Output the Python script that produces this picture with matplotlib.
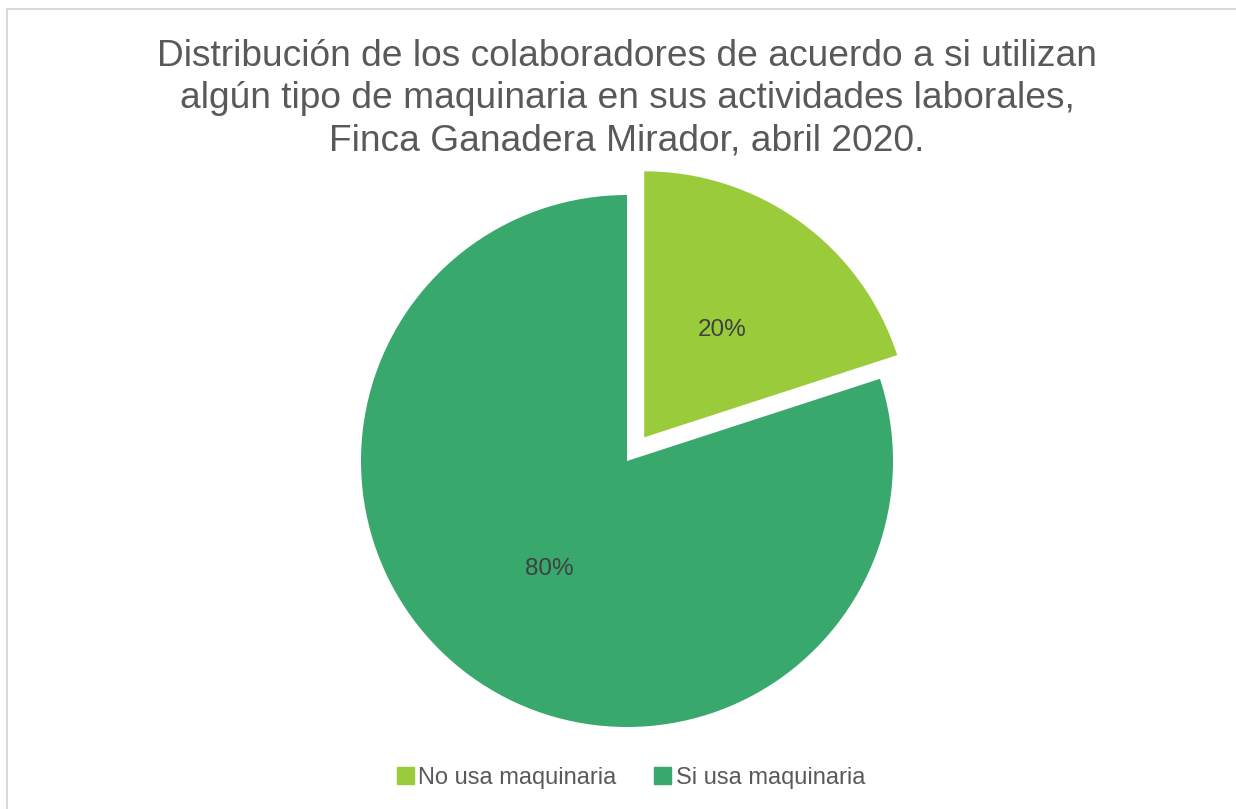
import numpy as np
import matplotlib.pyplot as plt
from matplotlib.lines import Line2D

plt.rcParams['font.family'] = ['Liberation Sans', 'DejaVu Sans']

# data
categorias = ['No usa maquinaria', 'Si usa maquinaria']
porcentajes = [20, 80]
colores = ['#9ACB3A', '#38A86D']
separacion = [0.11, 0.0]
titulo = ('Distribución de los colaboradores de acuerdo a si utilizan\n'
          'algún tipo de maquinaria en sus actividades laborales,\n'
          'Finca Ganadera Mirador, abril 2020.')

W, H = 1236, 809
fig = plt.figure(figsize=(W / 100, H / 100), dpi=100)
fig.patch.set_facecolor('white')

# borde gris del area del grafico (solo arriba e izquierda visibles)
fig.add_artist(Line2D([7 / W, 7 / W], [0, 1 - 9 / H], transform=fig.transFigure,
                      color='#D9D9D9', lw=1.5))
fig.add_artist(Line2D([7 / W, 1], [1 - 9 / H, 1 - 9 / H], transform=fig.transFigure,
                      color='#D9D9D9', lw=1.5))

# eje cuadrado centrado en el centro del pastel
cx, cy, r_px = 627, 461, 266
half = 300
ax = fig.add_axes([(cx - half) / W, 1 - (cy + half) / H, 2 * half / W, 2 * half / H])
wedges, texts, autotexts = ax.pie(porcentajes, explode=separacion, colors=colores,
                                  startangle=90, counterclock=False,
                                  autopct='%1.0f%%', pctdistance=0.5,
                                  textprops={'color': '#404040', 'fontsize': 17.5})
lim = half / r_px
ax.set_xlim(-lim, lim)
ax.set_ylim(-lim, lim)
ax.set_aspect('equal')
ax.axis('off')

fig.text(cx / W, 1 - 99 / H, titulo, ha='center', va='center',
         multialignment='center', fontsize=26.7, color='#595959', linespacing=1.27)

handles = [plt.Rectangle((0, 0), 1, 1, color=c) for c in colores]
fig.legend(handles, categorias, loc='center', bbox_to_anchor=(631 / W, 1 - 778 / H),
           ncol=2, frameon=False, fontsize=17, handlelength=0.7, handleheight=0.7,
           handletextpad=0.2, columnspacing=1.6, labelcolor='#595959')

fig.savefig('out.png', dpi=100)
